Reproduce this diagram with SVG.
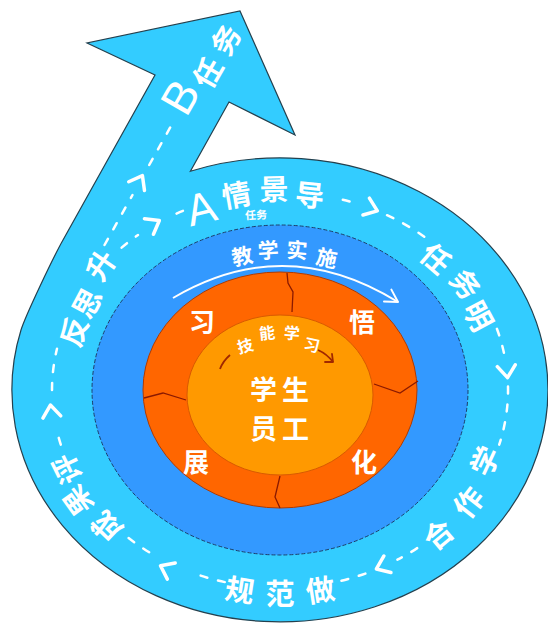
<svg xmlns="http://www.w3.org/2000/svg" xmlns:xlink="http://www.w3.org/1999/xlink" width="548" height="625" viewBox="0 0 548 625">
<defs>
<style>
.t{font-family:"Noto Sans CJK SC","Noto Sans",sans-serif;fill:#fff;text-anchor:middle;dominant-baseline:central;font-weight:bold}
.o{font-size:29px}
.dash{fill:none;stroke:#fff;stroke-width:2.5;stroke-dasharray:7 11;stroke-linecap:round}
.crack{fill:none;stroke:#8a1a00;stroke-width:1.3}
.lat{font-family:"Liberation Sans",sans-serif;fill:#fff;text-anchor:middle;dominant-baseline:central}
</style>
<path id="chev" d="M-7,-9 L5,0 L-7,9" fill="none" stroke="#fff" stroke-width="3.5" stroke-linecap="round" stroke-linejoin="round"/>
</defs>
<rect width="548" height="625" fill="#fff"/>

<g id="outer-ring">
<path d="M240,11 L295,135 L229,102 L190.4,171.2 A268,232 0 1 1 21,330 C25.4,315.7 53.2,257.5 63,240 L155,75 L87,43 Z" fill="#33ccff" stroke="#24404e" stroke-width="1.2"/>
</g>

<g id="teaching-ring">
<ellipse cx="280" cy="390" rx="188" ry="165" fill="#3399ff" stroke="#1d3d6a" stroke-width="1" stroke-dasharray="4 2"/>
</g>

<g id="learning-ring">
<ellipse cx="280" cy="390" rx="137" ry="118" fill="#ff6600" stroke="#b03a00" stroke-width="1"/>
<path class="crack" d="M287,273 L288,283 L293,292 L292,312"/>
<path class="crack" d="M374,384 L400,393 L418,381"/>
<path class="crack" d="M144,398 L163,393 L186,400"/>
<path class="crack" d="M280,476 L275,497 L280,508"/>
</g>

<g id="core">
<ellipse cx="280" cy="395" rx="93" ry="80" fill="#ff9900" stroke="#d85a00" stroke-width="1"/>
<text class="t" x="282" y="388" font-size="27" letter-spacing="5">学生</text>
<text class="t" x="282" y="427" font-size="27" letter-spacing="5">员工</text>
</g>

<g id="learning-labels">
<text class="t" font-size="26" transform="translate(202,320)">习</text>
<text class="t" font-size="26" transform="translate(362,320)">悟</text>
<text class="t" font-size="26" transform="translate(196,460)">展</text>
<text class="t" font-size="26" transform="translate(364,460)">化</text>
<text class="t" font-size="16" transform="translate(245,345) rotate(-15)">技</text>
<text class="t" font-size="16" transform="translate(267,332) rotate(-6)">能</text>
<text class="t" font-size="16" transform="translate(292,332) rotate(4)">学</text>
<text class="t" font-size="16" transform="translate(312,344) rotate(12)">习</text>
</g>

<g id="teaching-labels">
<text class="t" font-size="21" transform="translate(242,255) rotate(-12)">教</text>
<text class="t" font-size="21" transform="translate(268,249) rotate(-4)">学</text>
<text class="t" font-size="21" transform="translate(297,249) rotate(4)">实</text>
<text class="t" font-size="21" transform="translate(327,257) rotate(12)">施</text>
</g>

<g id="outer-labels">
<text class="lat" font-size="44" transform="translate(201,208) rotate(-14)">A</text>
<text class="t o" font-size="31" transform="translate(236,193) rotate(-10)">情</text>
<text class="t o" font-size="31" transform="translate(274,187) rotate(-1)">景</text>
<text class="t o" font-size="31" transform="translate(310,193) rotate(6)">导</text>
<text class="t" font-size="11" transform="translate(256,214) rotate(-3)">任务</text>
<text class="t o" transform="translate(437,257) rotate(41)">任</text>
<text class="t o" transform="translate(467,283) rotate(52)">务</text>
<text class="t o" transform="translate(480,315) rotate(62)">明</text>
<text class="t o" font-size="27" transform="translate(483,460) rotate(-65)">学</text>
<text class="t o" font-size="27" transform="translate(467,501) rotate(-52)">作</text>
<text class="t o" font-size="27" transform="translate(437,533) rotate(-40)">合</text>
<text class="t o" transform="translate(240,588) rotate(9)">规</text>
<text class="t o" transform="translate(280,592)">范</text>
<text class="t o" transform="translate(320,588) rotate(-9)">做</text>
<text class="t o" transform="translate(105,528) rotate(-136)">成</text>
<text class="t o" transform="translate(76,502) rotate(-126)">果</text>
<text class="t o" transform="translate(65,470) rotate(-116)">评</text>
<text class="t o" transform="translate(72,331) rotate(-70)">反</text>
<text class="t o" transform="translate(85,302) rotate(-62)">思</text>
<text class="t o" transform="translate(99,264) rotate(-55)">升</text>
<text class="lat" font-size="46" transform="translate(180,97) rotate(-60)">B</text>
<text class="t o" transform="translate(206,72) rotate(-60)">任</text>
<text class="t o" transform="translate(224,39) rotate(-60)">务</text>
</g>

<g id="connectors">
<path class="dash" d="M342.8,199.7 A228,198 0 0 1 358,203.9"/>
<path class="dash" d="M387,215.2 A228,198 0 0 1 432.6,242.9"/>
<path class="dash" d="M496.9,328.8 A228,198 0 0 1 504.5,355.6"/>
<path class="dash" d="M508,386.5 A228,198 0 0 1 499.2,444.6"/>
<path class="dash" d="M417.2,548.1 A228,198 0 0 1 397.4,559.7"/>
<path class="dash" d="M365.4,573.6 A228,198 0 0 1 335.2,582.1"/>
<path class="dash" d="M224.8,582.1 A228,198 0 0 1 190.9,572.3"/>
<path class="dash" d="M149.2,552.2 A228,198 0 0 1 127.4,537.1"/>
<path class="dash" d="M60.8,444.6 A228,198 0 0 1 57,431.2"/>
<path class="dash" d="M52,390 A228,198 0 0 1 57,348.8"/>
<path class="dash" d="M121.6,247.6 A228,198 0 0 1 138,235"/>
<path class="dash" d="M176.5,213.6 A228,198 0 0 1 187.3,209.1"/>
<path class="dash" d="M104.5,245 L132.5,195"/>
<path class="dash" d="M149.2,165 L174.4,120"/>
<use xlink:href="#chev" transform="translate(372.7,209.1) rotate(21)"/>
<use xlink:href="#chev" transform="translate(507,372.7) rotate(84)"/>
<use xlink:href="#chev" transform="translate(381,567) rotate(157)"/>
<use xlink:href="#chev" transform="translate(165,568) rotate(-154)"/>
<use xlink:href="#chev" transform="translate(51,410) rotate(-97)"/>
<use xlink:href="#chev" transform="translate(140,180) rotate(-61)"/>
<use xlink:href="#chev" transform="translate(155,223) rotate(-30)"/>
<path d="M173,298 Q285,232 398,302" fill="none" stroke="#fff" stroke-width="2"/>
<path d="M384,301.5 L398,302 L391.4,289.6" fill="none" stroke="#fff" stroke-width="2" stroke-linecap="round" stroke-linejoin="round"/>
<path d="M220,369 Q223,361 230,355" fill="none" stroke="#a02800" stroke-width="1.8"/>
<path d="M318,350 Q327,354 333,362" fill="none" stroke="#a02800" stroke-width="1.8"/>
<path d="M325,362 L333,362 L332,354" fill="none" stroke="#a02800" stroke-width="1.8" stroke-linecap="round" stroke-linejoin="round"/>
</g>
</svg>
